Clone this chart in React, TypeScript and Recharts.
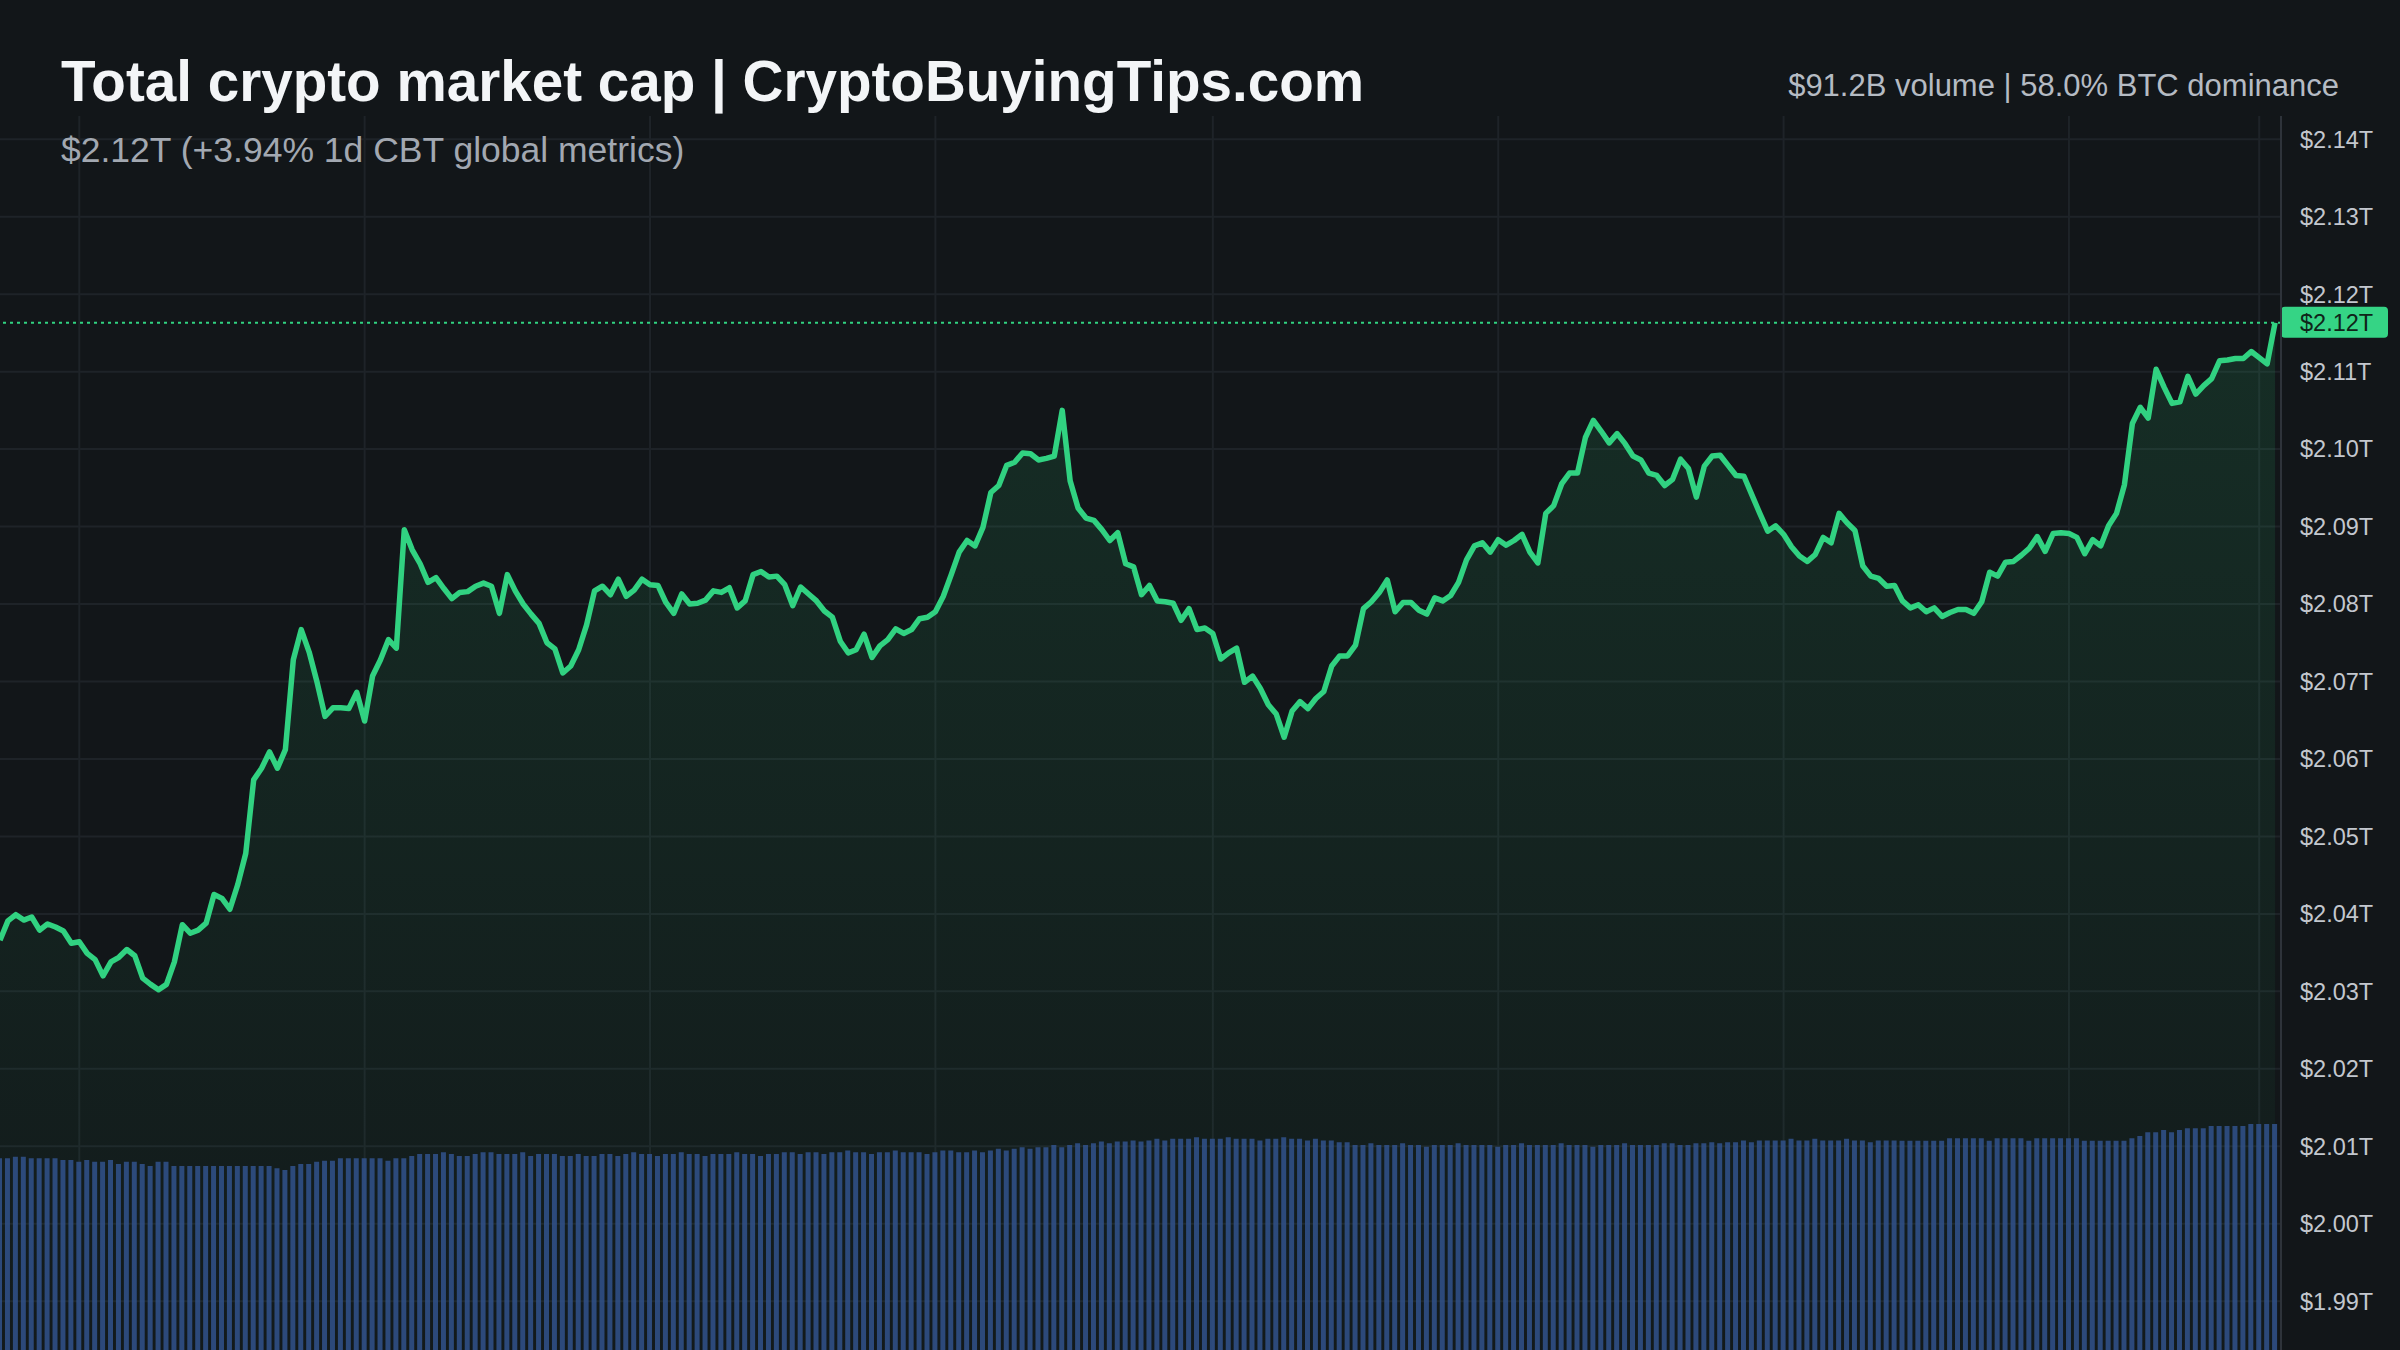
import React from "react";
import { ComposedChart, Area, Bar, XAxis, YAxis, CartesianGrid, ReferenceLine } from "recharts";

// 5-minute samples over one day (288 points)
const prices = [
  2.0366, 2.0391, 2.0399, 2.0392, 2.0396, 2.0379, 2.0387, 2.0383, 2.0378, 2.0362,
  2.0364, 2.0349, 2.0341, 2.0320, 2.0338, 2.0344, 2.0354, 2.0346, 2.0317, 2.0309,
  2.0302, 2.0309, 2.0338, 2.0386, 2.0375, 2.0379, 2.0388, 2.0425, 2.0420, 2.0406,
  2.0438, 2.0478, 2.0573, 2.0588, 2.0609, 2.0588, 2.0612, 2.0728, 2.0767, 2.0738,
  2.0699, 2.0655, 2.0666, 2.0666, 2.0665, 2.0686, 2.0649, 2.0707, 2.0728, 2.0754,
  2.0743, 2.0896, 2.0870, 2.0852, 2.0828, 2.0834, 2.0820, 2.0807, 2.0815, 2.0816,
  2.0823, 2.0827, 2.0823, 2.0788, 2.0838, 2.0817, 2.0800, 2.0787, 2.0775, 2.0750,
  2.0742, 2.0711, 2.0720, 2.0741, 2.0773, 2.0817, 2.0823, 2.0812, 2.0832, 2.0810,
  2.0818, 2.0832, 2.0825, 2.0824, 2.0802, 2.0788, 2.0813, 2.0800, 2.0801, 2.0805,
  2.0817, 2.0815, 2.0821, 2.0795, 2.0804, 2.0838, 2.0842, 2.0835, 2.0836, 2.0825,
  2.0798, 2.0822, 2.0813, 2.0804, 2.0791, 2.0783, 2.0752, 2.0737, 2.0741, 2.0761,
  2.0731, 2.0746, 2.0754, 2.0768, 2.0762, 2.0767, 2.0781, 2.0783, 2.0790, 2.0810,
  2.0838, 2.0867, 2.0882, 2.0875, 2.0899, 2.0944, 2.0953, 2.0979, 2.0983, 2.0995,
  2.0994, 2.0986, 2.0988, 2.0991, 2.1050, 2.0959, 2.0924, 2.0911, 2.0908, 2.0896,
  2.0882, 2.0892, 2.0852, 2.0848, 2.0812, 2.0824, 2.0804, 2.0803, 2.0801, 2.0779,
  2.0794, 2.0767, 2.0769, 2.0762, 2.0729, 2.0737, 2.0743, 2.0699, 2.0707, 2.0691,
  2.0670, 2.0658, 2.0628, 2.0662, 2.0674, 2.0665, 2.0678, 2.0687, 2.0720, 2.0733,
  2.0733, 2.0747, 2.0794, 2.0803, 2.0815, 2.0831, 2.0790, 2.0802, 2.0802, 2.0792,
  2.0787, 2.0808, 2.0804, 2.0811, 2.0828, 2.0857, 2.0875, 2.0879, 2.0867, 2.0883,
  2.0876, 2.0882, 2.0890, 2.0867, 2.0853, 2.0917, 2.0927, 2.0955, 2.0969, 2.0969,
  2.1015, 2.1037, 2.1023, 2.1008, 2.1020, 2.1007, 2.0991, 2.0986, 2.0969, 2.0966,
  2.0953, 2.0961, 2.0987, 2.0975, 2.0938, 2.0978, 2.0991, 2.0992, 2.0979, 2.0966,
  2.0965, 2.0941, 2.0917, 2.0894, 2.0901, 2.0890, 2.0874, 2.0862, 2.0855, 2.0864,
  2.0886, 2.0879, 2.0917, 2.0905, 2.0895, 2.0849, 2.0836, 2.0833, 2.0823, 2.0824,
  2.0804, 2.0795, 2.0799, 2.0790, 2.0795, 2.0784, 2.0789, 2.0793, 2.0793, 2.0788,
  2.0803, 2.0841, 2.0836, 2.0854, 2.0855, 2.0863, 2.0872, 2.0887, 2.0868, 2.0891,
  2.0892, 2.0891, 2.0886, 2.0865, 2.0883, 2.0875, 2.0901, 2.0917, 2.0954, 2.1033,
  2.1054, 2.1040, 2.1103, 2.1080, 2.1059, 2.1061, 2.1094, 2.1071, 2.1082, 2.1091,
  2.1114, 2.1115, 2.1117, 2.1117, 2.1126, 2.1118, 2.1110, 2.1163,
];

// rolling volume, $B
const volumes = [
  77.7, 77.7, 78.3, 78.3, 77.7, 77.7, 77.7, 77.7, 77.0, 77.0,
  76.3, 77.0, 76.3, 76.3, 77.0, 75.4, 76.3, 76.3, 75.4, 74.6,
  76.3, 76.3, 74.6, 74.6, 74.6, 74.6, 74.6, 74.6, 74.6, 74.6,
  74.6, 74.6, 74.6, 74.6, 74.6, 73.6, 72.9, 74.6, 75.4, 75.4,
  76.3, 76.7, 76.7, 77.7, 77.7, 77.7, 77.7, 77.7, 77.7, 76.7,
  77.7, 77.7, 78.6, 79.4, 79.4, 79.4, 80.1, 79.4, 78.6, 78.6,
  79.4, 80.1, 80.1, 79.4, 79.4, 79.4, 80.1, 78.6, 79.4, 79.4,
  79.4, 78.6, 78.6, 79.4, 78.6, 78.6, 79.4, 79.4, 78.6, 79.4,
  80.1, 79.4, 79.4, 78.6, 79.4, 79.4, 80.1, 79.4, 79.4, 78.6,
  79.4, 79.4, 79.4, 80.1, 79.4, 79.4, 78.6, 79.4, 79.4, 80.1,
  80.1, 79.4, 80.1, 80.1, 79.4, 80.1, 80.1, 80.8, 80.1, 80.1,
  79.4, 80.1, 80.1, 80.8, 80.1, 80.1, 80.1, 79.4, 80.1, 80.8,
  80.8, 80.1, 80.1, 80.8, 80.1, 80.8, 81.5, 80.8, 81.5, 82.2,
  81.5, 82.2, 82.2, 83.1, 82.2, 83.1, 83.8, 83.1, 83.8, 84.5,
  83.8, 84.5, 84.5, 84.9, 84.5, 84.9, 85.6, 84.9, 85.6, 85.6,
  85.6, 86.2, 85.6, 85.6, 85.6, 86.2, 85.6, 85.6, 85.6, 84.9,
  85.6, 85.6, 86.2, 85.6, 85.6, 84.9, 85.6, 84.9, 84.9, 84.2,
  84.2, 83.1, 83.1, 83.8, 83.1, 83.1, 83.1, 83.8, 83.1, 83.1,
  82.4, 83.1, 83.1, 83.1, 83.8, 83.1, 83.1, 83.1, 83.1, 82.4,
  83.1, 83.1, 83.8, 83.1, 83.1, 83.1, 83.1, 83.8, 83.1, 83.1,
  83.1, 82.4, 83.1, 83.1, 83.1, 83.8, 83.1, 83.1, 83.1, 83.1,
  83.8, 83.8, 83.1, 83.1, 83.8, 83.8, 84.2, 83.8, 84.2, 84.2,
  84.9, 84.2, 84.9, 84.9, 84.9, 84.9, 85.6, 84.9, 84.9, 85.6,
  84.9, 84.9, 84.9, 85.6, 84.9, 84.9, 84.2, 84.9, 84.9, 84.9,
  84.8, 84.8, 84.8, 84.8, 84.8, 84.8, 85.8, 85.8, 85.8, 85.8,
  85.8, 84.8, 85.8, 85.8, 85.8, 85.8, 84.8, 85.8, 85.8, 85.8,
  85.8, 85.8, 85.8, 84.8, 84.8, 84.8, 84.8, 84.8, 84.8, 85.8,
  86.7, 88.2, 88.2, 89.1, 88.2, 89.1, 89.8, 89.8, 89.8, 90.8,
  90.8, 90.8, 90.8, 90.8, 91.6, 91.6, 91.6, 91.6,
];

const priceTicks = [2.14, 2.13, 2.12, 2.11, 2.1, 2.09, 2.08, 2.07, 2.06, 2.05, 2.04, 2.03, 2.02, 2.01, 2.0, 1.99];
// sample indices where the vertical time grid lines fall
const timeGridTicks = [10, 46, 82, 118, 153, 189, 225, 261, 285];
const X_DOMAIN: [number, number] = [0, 287.75];

const chartData = prices.map((price, i) => ({ i, price, volume: volumes[i] }));
const lastPrice = prices[prices.length - 1];

const FONT = '"Liberation Sans", Arial, Helvetica, sans-serif';
const BG = "#121619";
const GRID = "#1e2328";
const GREEN = "#31d281";
const fmt = (v: number) => `$${v.toFixed(2)}T`;

// vertical grid lines go through the x axis scale
function timeGridX(props: any) {
  const scale = props && props.xAxis && props.xAxis.scale;
  if (typeof scale === "function") {
    return timeGridTicks.map((t) => scale(t));
  }
  if (scale && typeof scale.map === "function") {
    return timeGridTicks.map((t) => scale.map(t));
  }
  const off = props.offset;
  return timeGridTicks.map((t) => off.left + ((t - X_DOMAIN[0]) / (X_DOMAIN[1] - X_DOMAIN[0])) * off.width);
}

function PriceTag(props: any) {
  const vb = props.viewBox || {};
  const x = (vb.x || 0) + (vb.width || 0);
  const y = vb.y || 0;
  return (
    <g>
      <rect x={x} y={y - 16} width={107} height={31} rx={4} fill="#35d485" />
      <text x={x + 19} y={y} dy="0.36em" fill="#0f2519" fontSize={23.5} fontFamily={FONT}>
        {fmt(lastPrice)}
      </text>
    </g>
  );
}

export default function App() {
  return (
    <div style={{ position: "fixed", left: 0, top: 0, width: 2400, height: 1350, background: BG, overflow: "hidden" }}>
      <ComposedChart width={2400} height={1350} data={chartData} margin={{ top: 116, right: 0, bottom: 0, left: 0 }}>
        <defs>
          <linearGradient id="priceFill" x1="0" y1="0" x2="0" y2="1">
            <stop offset="0%" stopColor="#2fd47c" stopOpacity={0.21} />
            <stop offset="100%" stopColor="#2fd47c" stopOpacity={0.03} />
          </linearGradient>
        </defs>
        <CartesianGrid
          stroke={GRID}
          strokeWidth={2}
          horizontalValues={priceTicks}
          verticalCoordinatesGenerator={timeGridX}
        />
        <XAxis
          dataKey="i"
          type="number"
          domain={X_DOMAIN}
          ticks={timeGridTicks}
          height={0}
          tick={false}
          tickLine={false}
          axisLine={false}
        />
        <YAxis
          orientation="right"
          type="number"
          domain={[1.9837, 2.143]}
          allowDataOverflow
          ticks={priceTicks}
          tickFormatter={fmt}
          width={119}
          tickSize={0}
          tickMargin={19}
          tickLine={false}
          axisLine={{ stroke: "#2e333a", strokeWidth: 2 }}
          tick={{ fill: "#c3c7ce", fontSize: 23.5, fontFamily: FONT }}
        />
        <YAxis yAxisId="vol" hide domain={[0, 500]} />
        <Area
          type="linear"
          dataKey="price"
          stroke={GREEN}
          strokeWidth={5.5}
          strokeLinejoin="round"
          fill="url(#priceFill)"
          dot={false}
          activeDot={false}
          isAnimationActive={false}
        />
        <Bar yAxisId="vol" dataKey="volume" fill="#31528a" fillOpacity={0.86} barSize={5} isAnimationActive={false} />
        <ReferenceLine
          y={lastPrice}
          stroke={GREEN}
          strokeWidth={2}
          strokeDasharray="3 4"
          label={(p: any) => <PriceTag {...p} />}
        />
      </ComposedChart>
      <svg width={2400} height={200} style={{ position: "absolute", left: 0, top: 0, pointerEvents: "none" }}>
        <text x={61} y={101} fill="#f3f5f7" fontSize={56.6} fontWeight={700} fontFamily={FONT}>
          Total crypto market cap | CryptoBuyingTips.com
        </text>
        <text x={61} y={162} fill="#a2a8b1" fontSize={35.5} fontFamily={FONT}>
          $2.12T (+3.94% 1d CBT global metrics)
        </text>
        <text x={2339} y={96} fill="#b5bbc3" fontSize={31} fontFamily={FONT} textAnchor="end">
          $91.2B volume | 58.0% BTC dominance
        </text>
      </svg>
    </div>
  );
}
